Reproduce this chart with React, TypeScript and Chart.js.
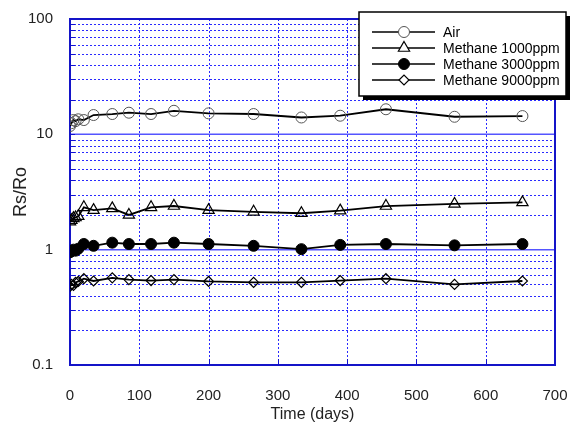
import React, { useEffect, useRef } from "react";
import { Chart, registerables } from "chart.js";
import { drawPoint } from "chart.js/helpers";

Chart.register(...registerables);

const days = [0, 2, 5, 8, 12, 20, 34, 61, 85, 117, 150, 200, 265, 334, 390, 456, 555, 653];
const airValues = [11.8, 12.5, 13.3, 13.0, 13.5, 13.3, 14.7, 15.0, 15.4, 15.0, 16.0, 15.2, 15.0, 14.0, 14.5, 16.5, 14.2, 14.4];
const ch4_1000Values = [1.75, 1.8, 1.87, 1.9, 1.95, 2.33, 2.2, 2.28, 2.0, 2.33, 2.39, 2.2, 2.13, 2.07, 2.18, 2.39, 2.49, 2.57];
const ch4_3000Values = [0.95, 0.97, 1.0, 0.98, 1.02, 1.12, 1.08, 1.15, 1.12, 1.12, 1.15, 1.12, 1.08, 1.01, 1.1, 1.12, 1.09, 1.12];
const ch4_9000Values = [0.48, 0.5, 0.49, 0.52, 0.53, 0.56, 0.535, 0.57, 0.55, 0.54, 0.55, 0.53, 0.52, 0.52, 0.54, 0.56, 0.5, 0.535];
const seriesLabels = ["Air", "Methane 1000ppm", "Methane 3000ppm", "Methane 9000ppm"];
const yTickValues = [0.1, 1, 10, 100];
const xTickMax = 700;

const FONT = "Arial, 'Liberation Sans', sans-serif";

const toPoints = (vals: number[]) => days.map((d, i) => ({ x: d, y: vals[i] }));

const gridPlugin = {
  id: "customGrid",
  beforeDatasetsDraw(chart: any) {
    const { ctx, chartArea: a, scales } = chart;
    const x = scales.x;
    const y = scales.y;
    ctx.save();
    ctx.lineWidth = 1;
    ctx.setLineDash([2, 2]);
    ctx.strokeStyle = "#2a2aff";
    for (const dec of [0.1, 1, 10]) {
      for (let k = 2; k <= 9; k++) {
        const py = Math.round(y.getPixelForValue(k * dec)) + 0.5;
        ctx.beginPath();
        ctx.moveTo(a.left, py);
        ctx.lineTo(a.right, py);
        ctx.stroke();
      }
    }
    for (let v = 100; v < xTickMax; v += 100) {
      const px = Math.round(x.getPixelForValue(v)) + 0.5;
      ctx.beginPath();
      ctx.moveTo(px, a.top);
      ctx.lineTo(px, a.bottom);
      ctx.stroke();
    }
    ctx.setLineDash([]);
    ctx.strokeStyle = "#5555ff";
    ctx.lineWidth = 1.5;
    for (const v of [1, 10]) {
      const py = y.getPixelForValue(v);
      ctx.beginPath();
      ctx.moveTo(a.left, py);
      ctx.lineTo(a.right, py);
      ctx.stroke();
    }
    ctx.strokeStyle = "#1010d0";
    ctx.lineWidth = 1;
    for (const dec of [0.1, 1, 10]) {
      for (let k = 1; k <= 10; k++) {
        const py = Math.round(y.getPixelForValue(k * dec)) + 0.5;
        ctx.beginPath();
        ctx.moveTo(a.left, py);
        ctx.lineTo(a.left + 5, py);
        ctx.stroke();
      }
    }
    for (let v = 100; v < xTickMax; v += 100) {
      const px = Math.round(x.getPixelForValue(v)) + 0.5;
      ctx.beginPath();
      ctx.moveTo(px, a.bottom);
      ctx.lineTo(px, a.bottom - 6);
      ctx.stroke();
    }
    ctx.strokeStyle = "#1414c8";
    ctx.lineWidth = 2;
    ctx.strokeRect(a.left, a.top, a.right - a.left, a.bottom - a.top);
    ctx.restore();
  },
};

const legendPlugin = {
  id: "boxLegend",
  afterDraw(chart: any) {
    const { ctx } = chart;
    const bx = 359, by = 12, bw = 207, bh = 84;
    ctx.save();
    ctx.fillStyle = "#000";
    ctx.fillRect(bx + 4, by + 4, bw, bh);
    ctx.fillStyle = "#fff";
    ctx.fillRect(bx, by, bw, bh);
    ctx.strokeStyle = "#000";
    ctx.lineWidth = 1.5;
    ctx.strokeRect(bx, by, bw, bh);
    chart.data.datasets.forEach((ds: any, i: number) => {
      const yy = 32 + i * 16;
      ctx.strokeStyle = "#000";
      ctx.lineWidth = 1.5;
      ctx.beginPath();
      ctx.moveTo(372, yy);
      ctx.lineTo(435, yy);
      ctx.stroke();
      ctx.fillStyle = ds.pointBackgroundColor === "rgba(0,0,0,0)" ? "#fff" : ds.pointBackgroundColor;
      ctx.strokeStyle = ds.pointBorderColor;
      ctx.lineWidth = ds.pointBorderWidth;
      drawPoint(ctx, { pointStyle: ds.pointStyle, radius: ds.pointRadius, borderWidth: ds.pointBorderWidth, rotation: 0 }, 404, yy);
      ctx.fillStyle = "#000";
      ctx.font = `14px ${FONT}`;
      ctx.textBaseline = "middle";
      ctx.textAlign = "left";
      ctx.fillText(ds.label, 443, yy + 1);
    });
    ctx.restore();
  },
};

export default function App() {
  const ref = useRef<HTMLCanvasElement>(null);
  useEffect(() => {
    document.body.style.margin = "0";
    const mk = (label: string, vals: number[], style: string, r: number, bg: string, bc: string, bw: number) => ({
      label,
      data: toPoints(vals),
      showLine: true,
      borderColor: "#000",
      borderWidth: 1.8,
      pointStyle: style,
      pointRadius: r,
      pointBackgroundColor: bg,
      pointBorderColor: bc,
      pointBorderWidth: bw,
      tension: 0,
    });
    const chart = new Chart(ref.current!, {
      type: "scatter",
      data: {
        datasets: [
          mk(seriesLabels[0], airValues, "circle", 5.5, "rgba(0,0,0,0)", "#555", 1),
          mk(seriesLabels[1], ch4_1000Values, "triangle", 6.5, "rgba(0,0,0,0)", "#000", 1.2),
          mk(seriesLabels[2], ch4_3000Values, "circle", 5.5, "#000", "#000", 1),
          mk(seriesLabels[3], ch4_9000Values, "rectRot", 5, "rgba(0,0,0,0)", "#000", 1.2),
        ] as any,
      },
      options: {
        responsive: false,
        animation: false,
        layout: { padding: { top: 19, right: 15, left: 0, bottom: 0 } },
        plugins: { legend: { display: false }, tooltip: { enabled: false } },
        scales: {
          x: {
            type: "linear",
            min: 0,
            max: xTickMax,
            afterFit: (s: any) => { s.height = 57; },
            ticks: { stepSize: 100, font: { size: 15, family: FONT }, color: "#222", padding: 2, maxRotation: 0 },
            grid: { display: false, drawTicks: true, tickLength: 20 },
            border: { display: false },
            title: { display: true, text: "Time (days)", font: { size: 16, family: FONT }, color: "#222", padding: { top: 0, bottom: -2 } },
          },
          y: {
            type: "logarithmic",
            min: 0.1,
            max: 100,
            afterFit: (s: any) => { s.width = 70; },
            afterBuildTicks: (s: any) => { s.ticks = yTickValues.map((v) => ({ value: v })); },
            ticks: { font: { size: 15, family: FONT }, color: "#222", padding: 3, callback: (v: any) => String(v) },
            grid: { display: false, drawTicks: true, tickLength: 14 },
            border: { display: false },
            title: { display: true, text: "Rs/Ro", font: { size: 18, family: FONT }, color: "#222", padding: { top: 10, bottom: 0 } },
          },
        },
      },
      plugins: [gridPlugin, legendPlugin],
    });
    return () => chart.destroy();
  }, []);
  return (
    <div style={{ width: 570, height: 422 }}>
      <canvas ref={ref} width={570} height={422} />
    </div>
  );
}
